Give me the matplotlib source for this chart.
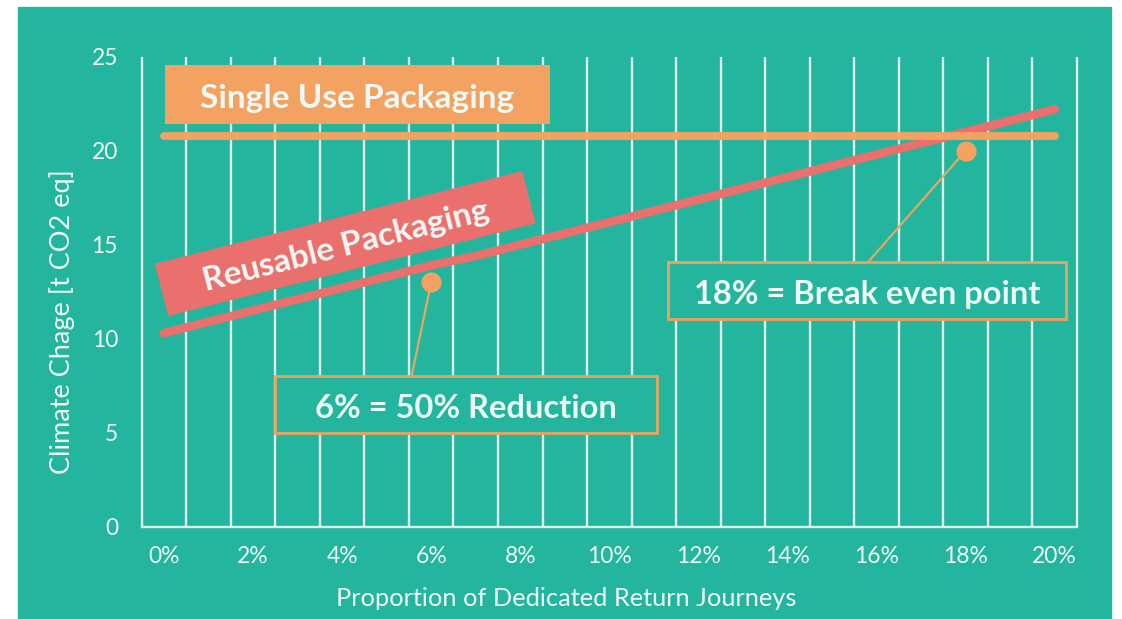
import numpy as np
import matplotlib
matplotlib.use("Agg")
import matplotlib.pyplot as plt
from matplotlib.patches import Rectangle
from matplotlib import transforms

# ---------------- data ----------------
categories = ["0%", "1%", "2%", "3%", "4%", "5%", "6%", "7%", "8%", "9%", "10%",
              "11%", "12%", "13%", "14%", "15%", "16%", "17%", "18%", "19%", "20%"]
single_use = [20.8, 20.8, 20.8, 20.8, 20.8, 20.8, 20.8, 20.8, 20.8, 20.8, 20.8,
              20.8, 20.8, 20.8, 20.8, 20.8, 20.8, 20.8, 20.8, 20.8, 20.8]
reusable = [10.3, 10.9, 11.5, 12.1, 12.7, 13.3, 13.9, 14.4, 15.0, 15.6, 16.2,
            16.8, 17.4, 18.0, 18.6, 19.2, 19.8, 20.4, 21.0, 21.6, 22.2]
x_tick_pos = [0, 2, 4, 6, 8, 10, 12, 14, 16, 18, 20]
x_tick_labels = ["0%", "2%", "4%", "6%", "8%", "10%", "12%", "14%", "16%", "18%", "20%"]
y_ticks = [0, 5, 10, 15, 20, 25]
callout_x = [6, 18]
callout_y = [13.0, 20.0]
callout_text = ["6% = 50% Reduction", "18% = Break even point"]
series_names = ["Single Use Packaging", "Reusable Packaging"]

# ---------------- style ----------------
TEAL = "#23b59d"
ORANGE = "#f4a261"
RED = "#e9706d"
GRID = "#dcefe9"
TEXT = "#eef8f4"
BOXEDGE = "#eda35e"
LEADER = "#e3a865"
FONT = "Lato"

W, H = 1122, 619
fig = plt.figure(figsize=(W / 100, H / 100), dpi=100, facecolor="white")
fig.patches.append(Rectangle((18 / W, 0), (1111 - 18) / W, (619 - 7) / H,
                             transform=fig.transFigure, color=TEAL, zorder=-10))

ax_l, ax_r, ax_t, ax_b = 141.7, 1077, 56.7, 526.7
ax = fig.add_axes([ax_l / W, (H - ax_b) / H, (ax_r - ax_l) / W, (ax_b - ax_t) / H])
ax.set_facecolor(TEAL)
n = len(categories)
x = np.arange(n)
ax.set_xlim(-0.5, n - 0.5)
ax.set_ylim(0, 25)

# category boundary gridlines
ax.vlines(np.arange(n + 1) - 0.5, 0, 25, color=GRID, lw=1.7, zorder=1, clip_on=False)
for s in ["top", "left", "right"]:
    ax.spines[s].set_visible(False)
ax.spines["bottom"].set_color(GRID)
ax.spines["bottom"].set_linewidth(1.7)

ax.set_xticks(x_tick_pos)
ax.set_xticklabels(x_tick_labels)
ax.set_yticks(y_ticks)
ax.set_yticklabels([str(v) for v in y_ticks])
ax.tick_params(axis="x", length=0, pad=14, labelsize=16.5, labelcolor=TEXT)
ax.tick_params(axis="y", length=0, pad=17, labelsize=16.5, labelcolor=TEXT)
for lab in ax.get_xticklabels() + ax.get_yticklabels():
    lab.set_fontfamily(FONT)

fig.text(61.7 / W, 1 - 321.7 / H, "Climate Chage [t CO2 eq]", rotation=90,
         ha="center", va="center", fontsize=19.5, color=TEXT, fontfamily=FONT)
fig.text(566 / W, 1 - 598 / H, "Proportion of Dedicated Return Journeys",
         ha="center", va="center", fontsize=18.3, color=TEXT, fontfamily=FONT)

# series lines
ax.plot(x, reusable, color=RED, lw=6.2, solid_capstyle="round", zorder=3)
ax.plot(x, single_use, color=ORANGE, lw=5.6, solid_capstyle="round", zorder=4)


def box(cx, cy, w, h, angle, face, edge, lw, label, fs, base_off=13.5):
    tr = transforms.Affine2D().rotate_deg(angle) + \
        transforms.ScaledTranslation(cx, cy, ax.transData)
    ax.add_patch(Rectangle((-w / 2, -h / 2), w, h, transform=tr, facecolor=face,
                           edgecolor=edge, lw=lw, zorder=5, clip_on=False))
    a = np.deg2rad(angle)
    dx, dy = base_off * np.sin(a), -base_off * np.cos(a)
    ax.annotate(label, xy=(cx, cy), xytext=(dx * 0.72, dy * 0.72),
                textcoords="offset points", ha="center", va="baseline",
                rotation=angle, rotation_mode="anchor", fontsize=fs,
                fontweight="bold", fontfamily=FONT, color=TEXT, zorder=6,
                annotation_clip=False)


# series name labels
box(4.345, 22.98, 385, 59, 0, ORANGE, "none", 0, series_names[0], 24)
box(4.07, 15.06, 379, 54, 14.15, RED, "none", 0, series_names[1], 24, 12.5)

# callouts
box(6.78, 6.49, 382, 57, 0, TEAL, BOXEDGE, 2.0, callout_text[0], 23.5)
box(15.78, 12.59, 398, 57, 0, TEAL, BOXEDGE, 2.0, callout_text[1], 23.5)
ax.plot([callout_x[0], 5.56], [callout_y[0], 8.02], color=LEADER, lw=1.6, zorder=4)
ax.plot([callout_x[1], 15.81], [callout_y[1], 14.08], color=LEADER, lw=1.6, zorder=4)
ax.plot(callout_x, callout_y, "o", color=ORANGE, ms=14.5, mec="none", zorder=7)

fig.savefig("out.png", dpi=100, facecolor="white")
